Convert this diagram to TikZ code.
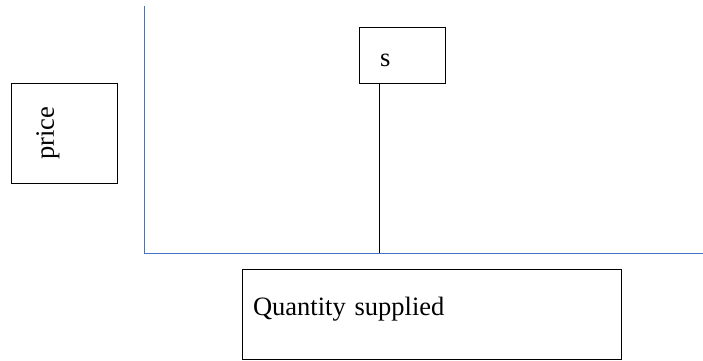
\documentclass[tikz,border=0pt]{standalone}
\usepackage{fontspec}
\setmainfont{Liberation Serif}
\usetikzlibrary{positioning}
\definecolor{axisblue}{HTML}{4472C4}

\begin{document}
\begin{tikzpicture}
[x=1pt,y=-1pt,
 every node/.style={draw=black,line width=0.8pt,inner sep=0pt,outer sep=0pt,font=\fontsize{26.5}{30}\selectfont},
 lbl/.style={rectangle},
 axis/.style={draw=axisblue,line width=0.8pt},
 supply/.style={draw=black,line width=0.8pt}]
\useasboundingbox (0,0) rectangle (703,360);
\coordinate (yTop)  at (144,6);
\coordinate (O)     at (144,253);
\coordinate (xEnd)  at (703,253);
\coordinate (sFoot) at (379,253);
\node[lbl,rotate=90,minimum width=100pt,minimum height=106pt,text depth=38pt] (price) at (64,133) {price};
\node[lbl,minimum width=86pt,minimum height=56pt,text width=44pt,inner xsep=21pt,align=left,text height=22pt,text depth=0pt] (s) at (402,55) {s};
\node[lbl,minimum width=379pt,minimum height=90pt,text width=357pt,inner xsep=11pt,align=left,text height=8pt,text depth=6pt] (qty) at (431.5,314) {Quantity supplied};
\draw[axis] (yTop) -- (O) -- (xEnd);
\draw[supply] (sFoot |- s.south) -- (sFoot);
\end{tikzpicture}
\end{document}
